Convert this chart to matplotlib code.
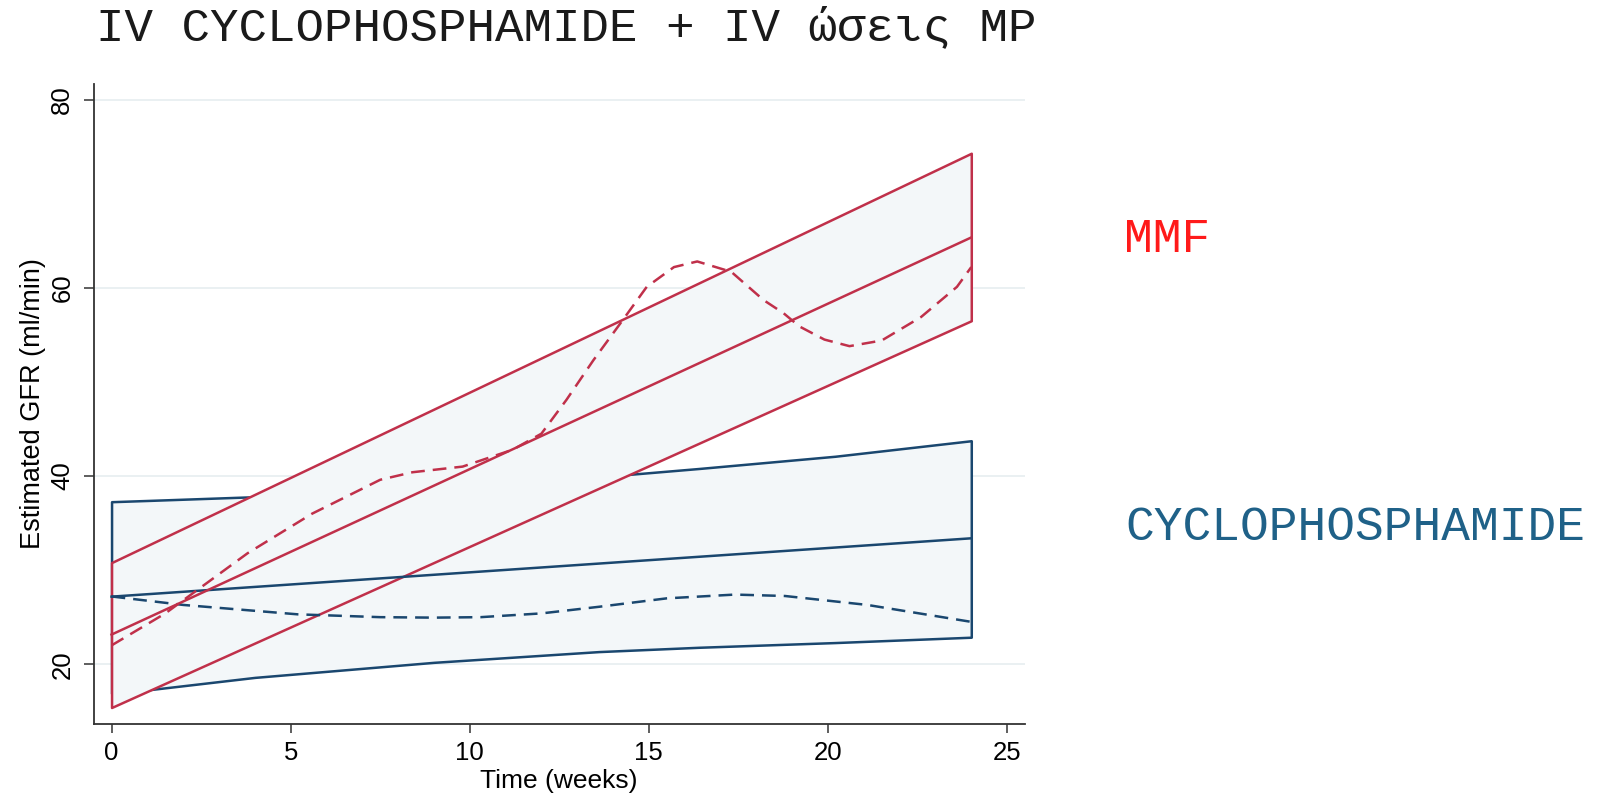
import numpy as np
import matplotlib
matplotlib.use("Agg")
import matplotlib.pyplot as plt

# Values
cyc_weeks = [0, 1, 4, 9, 13.6, 16.4, 20.2, 24]
cyc_upper = [37.27, 37.4, 37.8, 38.8, 39.9, 40.8, 42.1, 43.75]
cyc_lower = [16.9, 17.27, 18.6, 20.2, 21.34, 21.8, 22.3, 22.87]
cyc_fit_weeks = [0, 24]
cyc_fit = [27.18, 33.38]
cyc_obs_weeks = [0, 2, 5.2, 7.5, 9, 10.3, 12, 13.6, 15.5, 17.4, 18.8, 21.1, 24]
cyc_obs = [27.2, 26.3, 25.3, 25.0, 24.95, 25.0, 25.4, 26.1, 27.0, 27.4, 27.25, 26.3, 24.5]

mmf_weeks = [0, 24]
mmf_upper = [30.8, 74.3]
mmf_fit = [23.15, 65.35]
mmf_lower = [15.4, 56.5]
mmf_obs_weeks = [0, 1.5, 3.8, 5.6, 7.5, 8.4, 9.8, 11.2, 12.0, 12.7, 13.45, 14.2, 14.94,
                 15.7, 16.35, 17.3, 18.2, 18.76, 19.2, 19.9, 20.6, 21.5, 22.6, 23.6, 24]
mmf_obs = [22.0, 25.4, 31.8, 36.0, 39.6, 40.4, 41.0, 42.8, 44.5, 48.1, 52.3, 56.2, 60.1,
           62.2, 62.8, 61.7, 58.7, 57.3, 55.9, 54.5, 53.8, 54.4, 56.9, 60.1, 62.2]

y_ticks = [20, 40, 60, 80]
x_ticks = [0, 5, 10, 15, 20, 25]

navy = "#1a476f"
red = "#c0304a"
band_fill = "#f3f7f9"
grid_col = "#e6eef0"
lw = 1.8
dash = (5.5, 3.2)

W, H = 1598, 794
fig = plt.figure(figsize=(W / 100, H / 100), dpi=100)
ax = fig.add_axes([94 / W, 1 - 723.5 / H, (1025 - 94) / W, (723.5 - 83.6) / H])

# CYCLOPHOSPHAMIDE band first, MMF band drawn over it
ax.fill_between(cyc_weeks, cyc_lower, cyc_upper, facecolor=band_fill,
                edgecolor=navy, linewidth=lw, zorder=2)
ax.fill_between(mmf_weeks, mmf_lower, mmf_upper, facecolor=band_fill,
                edgecolor=red, linewidth=lw, zorder=3)

ax.plot(cyc_fit_weeks, cyc_fit, color=navy, lw=lw, zorder=4)
ax.plot(cyc_obs_weeks, cyc_obs, color=navy, lw=lw, dashes=dash, zorder=4)
ax.plot(mmf_weeks, mmf_fit, color=red, lw=lw, zorder=5)
ax.plot(mmf_obs_weeks, mmf_obs, color=red, lw=lw, dashes=dash, zorder=6)

ax.set_xlim(-0.49, 25.5)
ax.set_ylim(13.7, 81.7)
ax.set_xticks(x_ticks)
ax.set_yticks(y_ticks)
ax.grid(axis="y", color=grid_col, lw=1.2, zorder=0)
ax.set_axisbelow(True)

for s in ["top", "right"]:
    ax.spines[s].set_visible(False)
for s in ["left", "bottom"]:
    ax.spines[s].set_color("#333333")
    ax.spines[s].set_linewidth(1.3)

ax.tick_params(axis="x", length=6.8, width=1.1, color="#333333", pad=5.5,
               labelsize=18.5)
ax.tick_params(axis="y", length=7.2, width=1.1, color="#333333", pad=7,
               labelsize=18.5)
for lab in ax.get_xticklabels() + ax.get_yticklabels():
    lab.set_fontfamily("Liberation Sans")
for lab in ax.get_yticklabels():
    lab.set_rotation(90)
    lab.set_va("center")

fig.text(559 / W, 1 - 788 / H, "Time (weeks)", ha="center", va="baseline",
         fontsize=19, family="Liberation Sans")
fig.text(33 / W, 1 - 404 / H, "Estimated GFR (ml/min)", ha="center", va="center",
         rotation=90, fontsize=19.5, family="Liberation Sans")

fig.text(96 / W, 1 - 40 / H, "IV CYCLOPHOSPHAMIDE + IV ώσεις MP", ha="left",
         va="baseline", fontsize=34.2, family=["Liberation Mono", "DejaVu Sans Mono"],
         color="#1a1a1a")
fig.text(1124 / W, 1 - 251.7 / H, "MMF", ha="left", va="baseline", fontsize=34.5,
         family="Liberation Mono", color="#ff1a1a")
fig.text(1125 / W, 1 - 540 / H, "CYCLOPHOSPHAMIDE", ha="left", va="baseline",
         fontsize=34.5, family="Liberation Mono", color="#1f6188")

fig.savefig("out.png", dpi=100)
